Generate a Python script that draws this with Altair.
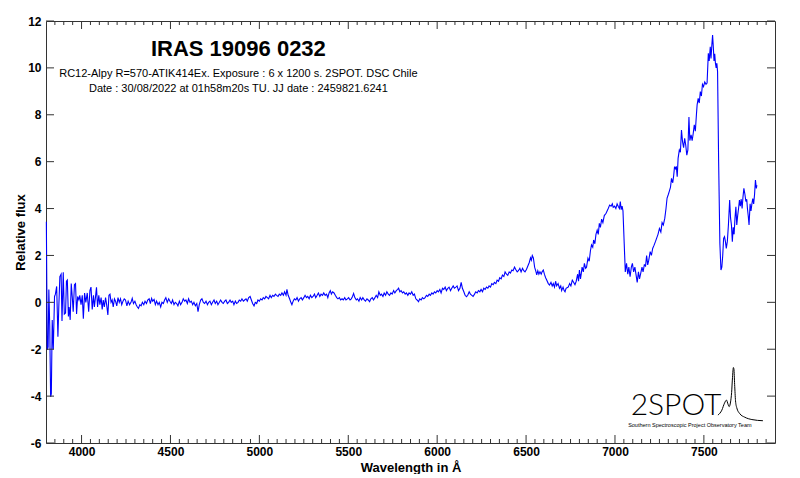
import altair as alt
import pandas as pd

# ---------------- data ----------------
WAVELENGTH = [
    3802, 3807, 3812, 3816, 3821, 3826, 3830, 3835, 3841, 3848, 3853, 3860, 3867, 3872, 3878, 3885,
    3890, 3897, 3903, 3910, 3915, 3920, 3926, 3930, 3936, 3942, 3948, 3953, 3960, 3966, 3972, 3978,
    3985, 3990, 3997, 4004, 4010, 4017, 4024, 4032, 4040, 4047, 4053, 4060, 4067, 4072, 4078, 4084,
    4090, 4097, 4103, 4110, 4116, 4122, 4128, 4135, 4141, 4148, 4154, 4160, 4166, 4172, 4178, 4185,
    4191, 4198, 4205, 4212, 4219, 4226, 4233, 4240, 4247, 4255, 4262, 4270, 4278, 4285, 4292, 4300,
    4307, 4314, 4320, 4328, 4335, 4342, 4350, 4357, 4365, 4372, 4380, 4387, 4394, 4400, 4408, 4415,
    4422, 4430, 4437, 4445, 4452, 4460, 4467, 4474, 4482, 4490, 4497, 4505, 4512, 4520, 4527, 4535,
    4542, 4550, 4557, 4565, 4572, 4580, 4587, 4595, 4602, 4610, 4617, 4625, 4632, 4640, 4648, 4655,
    4662, 4670, 4677, 4685, 4692, 4700, 4708, 4715, 4722, 4730, 4737, 4745, 4752, 4760, 4767, 4775,
    4782, 4790, 4797, 4805, 4812, 4820, 4827, 4835, 4842, 4850, 4857, 4865, 4872, 4880, 4887, 4895,
    4902, 4910, 4917, 4925, 4932, 4940, 4948, 4955, 4962, 4970, 4977, 4985, 4992, 5000, 5007, 5015,
    5022, 5030, 5037, 5045, 5052, 5060, 5067, 5075, 5082, 5090, 5097, 5105, 5112, 5120, 5127, 5135,
    5142, 5150, 5155, 5162, 5170, 5177, 5183, 5190, 5197, 5205, 5212, 5220, 5227, 5235, 5242, 5250,
    5257, 5265, 5272, 5280, 5287, 5295, 5302, 5310, 5317, 5325, 5332, 5340, 5347, 5355, 5362, 5370,
    5378, 5385, 5392, 5399, 5405, 5412, 5420, 5427, 5435, 5442, 5450, 5457, 5465, 5472, 5480, 5487,
    5495, 5502, 5510, 5517, 5524, 5530, 5537, 5545, 5552, 5560, 5567, 5575, 5582, 5590, 5597, 5605,
    5612, 5620, 5627, 5635, 5642, 5650, 5657, 5665, 5672, 5680, 5687, 5695, 5702, 5710, 5717, 5725,
    5732, 5740, 5747, 5755, 5762, 5770, 5778, 5783, 5790, 5797, 5805, 5812, 5820, 5827, 5835, 5842,
    5850, 5857, 5865, 5872, 5880, 5887, 5895, 5902, 5910, 5917, 5925, 5932, 5940, 5947, 5955, 5962,
    5970, 5977, 5985, 5992, 6000, 6007, 6015, 6022, 6030, 6037, 6045, 6052, 6060, 6067, 6075, 6082,
    6090, 6097, 6105, 6112, 6120, 6128, 6135, 6142, 6150, 6157, 6165, 6172, 6180, 6187, 6195, 6202,
    6210, 6217, 6225, 6232, 6240, 6247, 6255, 6262, 6270, 6277, 6285, 6292, 6300, 6307, 6315, 6322,
    6330, 6337, 6345, 6352, 6360, 6367, 6375, 6382, 6390, 6397, 6405, 6412, 6420, 6427, 6435, 6442,
    6450, 6457, 6465, 6472, 6480, 6487, 6494, 6502, 6510, 6518, 6525, 6530, 6535, 6541, 6548, 6556,
    6560, 6566, 6572, 6578, 6585, 6590, 6597, 6603, 6610, 6616, 6625, 6632, 6640, 6647, 6653, 6660,
    6666, 6672, 6680, 6688, 6695, 6700, 6708, 6714, 6719, 6725, 6737, 6745, 6752, 6760, 6768, 6775,
    6782, 6790, 6795, 6800, 6806, 6810, 6815, 6822, 6828, 6835, 6840, 6848, 6855, 6862, 6868, 6875,
    6880, 6887, 6893, 6900, 6906, 6912, 6918, 6925, 6932, 6940, 6950, 6962, 6970, 6978, 6985, 6990,
    6998, 7005, 7012, 7018, 7025, 7030, 7035, 7040, 7045, 7052, 7058, 7065, 7072, 7078, 7085, 7092,
    7098, 7105, 7112, 7118, 7125, 7132, 7138, 7145, 7152, 7158, 7165, 7172, 7178, 7184, 7190, 7198,
    7205, 7212, 7220, 7228, 7235, 7242, 7250, 7258, 7265, 7272, 7280, 7287, 7293, 7300, 7305, 7312,
    7318, 7325, 7330, 7335, 7340, 7345, 7350, 7355, 7362, 7368, 7374, 7380, 7386, 7392, 7398, 7404,
    7410, 7416, 7421, 7428, 7434, 7440, 7446, 7452, 7458, 7462, 7468, 7474, 7480, 7486, 7492, 7498,
    7505, 7512, 7518, 7525, 7530, 7536, 7540, 7545, 7549, 7553, 7557, 7561, 7565, 7569, 7573, 7577,
    7583, 7590, 7596, 7601, 7606, 7611, 7616, 7621, 7626, 7632, 7638, 7645, 7650, 7655, 7660, 7665,
    7670, 7675, 7680, 7685, 7690, 7695, 7700, 7705, 7710, 7715, 7720, 7725, 7731, 7736, 7741, 7745,
    7750, 7754, 7760, 7765, 7770, 7775, 7780, 7785, 7790, 7795, 7798,
]
FLUX = [
    3.44, -2.03, -1.9, 0.55, -1.0, -4.03, -3.9, -0.75, -2.0, 0.25, 0.35, 0.68, -1.47, -0.2, 1.1, 1.2,
    -0.8, 1.28, -0.5, -0.45, 0.9, 0.95, -0.6, -0.2, -0.75, 0.8, 0.2, -0.4, 0.75, 0.8, -0.5, 0.25,
    0.1, 0.3, -0.1, 0.3, -0.7, 0.4, 0.0, 0.4, -0.4, 0.5, 0.65, -0.3, 0.3, -0.2, 0.2, 0.64,
    -0.2, 0.3, -0.1, 0.2, -0.3, 0.1, -0.2, 0.2, -0.1, -0.54, 0.3, 0.35, 0.0, 0.1, -0.2, 0.15,
    0.05, -0.15, 0.2, 0.0, 0.15, -0.1, 0.05, 0.15, 0.1, -0.15, 0.05, -0.1, 0.0, 0.17, -0.05, 0.05,
    -0.1, -0.2, -0.26, -0.1, -0.15, 0.0, -0.1, 0.05, -0.05, 0.1, 0.15, -0.05, 0.17, 0.05, 0.12, -0.1,
    0.05, -0.1, 0.0, -0.2, 0.0, -0.05, 0.1, 0.2, 0.0, 0.15, 0.05, -0.05, 0.1, -0.1, 0.0, -0.05,
    -0.15, 0.05, -0.1, 0.0, 0.15, 0.05, 0.1, -0.05, 0.15, 0.0, 0.05, -0.1, 0.0, -0.15, -0.05, -0.4,
    -0.1, 0.1, 0.15, 0.0, -0.05, 0.05, -0.1, 0.0, 0.05, -0.1, 0.0, 0.1, -0.05, 0.05, -0.1, 0.0,
    0.1, 0.0, -0.05, 0.05, 0.1, -0.05, 0.0, 0.1, 0.0, 0.05, -0.1, 0.05, -0.05, 0.0, 0.1, 0.05,
    0.15, 0.05, 0.1, 0.15, 0.05, 0.2, 0.25, 0.1, -0.05, -0.15, 0.0, -0.05, 0.1, 0.05, 0.15, 0.1,
    0.2, 0.15, 0.25, 0.2, 0.15, 0.3, 0.2, 0.3, 0.25, 0.35, 0.3, 0.25, 0.35, 0.3, 0.4, 0.3,
    0.45, 0.3, 0.55, 0.3, 0.15, 0.0, -0.1, 0.05, 0.15, 0.1, 0.2, 0.05, 0.15, 0.2, 0.1, 0.2,
    0.3, 0.2, 0.25, 0.15, 0.3, 0.2, 0.25, 0.35, 0.2, 0.3, 0.4, 0.25, 0.35, 0.3, 0.4, 0.3,
    0.35, 0.2, 0.4, 0.5, 0.35, 0.45, 0.4, 0.3, 0.2, 0.15, 0.2, 0.1, 0.15, 0.1, 0.2, 0.1,
    0.15, 0.2, 0.1, 0.15, 0.25, 0.38, 0.2, 0.1, 0.15, 0.05, 0.2, 0.1, 0.2, 0.1, 0.05, 0.15,
    0.1, 0.03, 0.15, 0.2, 0.1, 0.2, 0.3, 0.2, 0.45, 0.3, 0.35, 0.25, 0.4, 0.3, 0.45, 0.35,
    0.3, 0.4, 0.35, 0.5, 0.4, 0.5, 0.55, 0.6, 0.45, 0.5, 0.4, 0.45, 0.35, 0.4, 0.3, 0.4,
    0.35, 0.45, 0.3, 0.35, 0.15, 0.1, 0.03, 0.15, 0.1, 0.2, 0.15, 0.2, 0.3, 0.25, 0.35, 0.3,
    0.4, 0.35, 0.45, 0.4, 0.5, 0.45, 0.55, 0.4, 0.6, 0.55, 0.65, 0.5, 0.6, 0.65, 0.5, 0.6,
    0.7, 0.6, 0.65, 0.7, 0.5, 0.6, 0.85, 0.6, 0.45, 0.3, 0.24, 0.3, 0.45, 0.35, 0.3, 0.25,
    0.35, 0.45, 0.4, 0.5, 0.45, 0.55, 0.45, 0.6, 0.55, 0.65, 0.6, 0.7, 0.65, 0.8, 0.75, 0.85,
    0.8, 0.95, 0.9, 1.05, 1.0, 1.16, 1.1, 1.3, 1.2, 1.15, 1.3, 1.25, 1.38, 1.35, 1.5, 1.4,
    1.3, 1.35, 1.45, 1.3, 1.45, 1.35, 1.3, 1.4, 1.55, 1.7, 1.9, 1.8, 2.0, 1.9, 1.5, 1.3,
    1.17, 1.35, 1.2, 1.3, 1.2, 1.3, 1.38, 1.2, 1.05, 0.95, 0.8, 0.74, 0.85, 0.7, 0.8, 0.65,
    0.9, 0.7, 0.8, 0.6, 0.7, 0.5, 0.65, 0.5, 0.45, 0.6, 0.65, 0.8, 0.7, 0.95, 0.85, 0.75,
    0.9, 1.2, 0.9, 1.38, 1.0, 1.2, 1.5, 1.3, 1.66, 1.45, 1.5, 1.88, 1.75, 2.2, 2.45, 2.35,
    2.66, 2.5, 2.9, 3.08, 2.9, 3.37, 3.2, 3.55, 3.4, 3.7, 3.8, 4.0, 4.15, 4.1, 4.2, 4.05,
    4.1, 4.0, 4.2, 4.1, 4.0, 4.3, 3.95, 4.1, 3.9, 2.5, 1.3, 1.66, 1.2, 1.5, 1.09, 1.5,
    1.66, 1.3, 1.5, 1.2, 0.85, 1.3, 1.0, 1.25, 1.5, 1.3, 1.6, 1.55, 2.0, 1.6, 1.8, 2.16,
    2.0, 2.3, 2.44, 2.6, 2.75, 2.9, 3.15, 3.0, 3.4, 3.3, 3.58, 4.0, 4.45, 4.6, 4.72, 4.9,
    5.29, 5.1, 5.4, 5.79, 5.7, 5.8, 5.36, 6.14, 6.5, 6.4, 7.35, 6.85, 6.6, 7.0, 6.7, 6.28,
    6.5, 7.9, 6.9, 7.14, 6.9, 7.2, 7.57, 7.3, 8.0, 8.42, 8.7, 8.5, 8.99, 8.8, 9.3, 9.2,
    9.4, 9.3, 9.35, 10.62, 10.3, 10.9, 10.4, 11.0, 11.4, 10.9, 10.3, 10.6, 10.2, 10.0, 10.2, 9.84,
    6.0, 2.5, 1.38, 1.5, 2.0, 2.73, 2.8, 2.6, 2.3, 2.6, 3.3, 4.36, 3.6, 3.3, 2.59, 3.2,
    2.9, 3.6, 4.08, 3.3, 3.7, 4.0, 4.36, 4.1, 4.4, 4.0, 4.5, 4.86, 4.6, 4.3, 4.4, 4.0,
    3.65, 3.3, 4.2, 3.9, 4.2, 4.43, 4.2, 4.6, 5.22, 4.86, 5.0,
]

X_MAJOR = [4000, 4500, 5000, 5500, 6000, 6500, 7000, 7500]
X_MINOR = [w for w in range(3850, 7900, 50) if w not in X_MAJOR]
Y_TICKS = [-6, -4, -2, 0, 2, 4, 6, 8, 10, 12]

TITLE = "IRAS 19096 0232"
INFO_1 = "RC12-Alpy R=570-ATIK414Ex. Exposure : 6 x 1200 s. 2SPOT. DSC Chile"
INFO_2 = "Date : 30/08/2022 at 01h58m20s TU. JJ date : 2459821.6241"
LOGO = "2SPOT"
LOGO_TAG = "Southern Spectroscopic Project Observatory Team"

# little emission-line drawing of the logo (in data units)
LOGO_CURVE_WL = [7579, 7601, 7616, 7627, 7636, 7642, 7650, 7656, 7661, 7666, 7669, 7673, 7678, 7685, 7702, 7730, 7770, 7832]
LOGO_CURVE_FLUX = [-4.81, -4.6, -4.3, -4.17, -4.35, -4.45, -4.25, -3.85, -3.2, -2.78, -2.85, -3.5, -4.2, -4.5, -4.75, -4.9, -5.0, -5.05]

# ---------------- chart ----------------
W, H = 729, 422
FONT = "Liberation Sans"
AX = "#333333"

xs = alt.Scale(domain=[3800, 7900], nice=False, zero=False)
ys = alt.Scale(domain=[-6, 12], nice=False, zero=False)

X_AXIS = alt.Axis(
    values=X_MAJOR, format="d", title="Wavelength in Å", grid=False, domain=False,
    ticks=False, tickSize=0, labelFont=FONT, labelFontSize=12, labelFontWeight="bold",
    labelColor="black", labelPadding=3, labelFlush=False, labelOverlap=False,
    titleFont=FONT, titleFontSize=13, titleFontWeight="bold", titleColor="black",
    titleY=24, titleBaseline="middle")
Y_AXIS = alt.Axis(
    values=Y_TICKS, labelExpr="'' + datum.value", title="Relative flux", grid=False,
    domain=False, ticks=False, tickSize=0, labelFont=FONT, labelFontSize=12,
    labelFontWeight="bold", labelColor="black", labelPadding=5, labelFlush=False,
    labelOverlap=False, labelBaseline="middle",
    titleFont=FONT, titleFontSize=13, titleFontWeight="bold", titleColor="black",
    titleAngle=270, titleX=-26, titleY=211, titleAlign="center", titleBaseline="middle")


def X(field):
    return alt.X(field, scale=xs, axis=X_AXIS)


def Y(field):
    return alt.Y(field, scale=ys, axis=Y_AXIS)


spec_df = pd.DataFrame({"wl": WAVELENGTH, "flux": FLUX})

spectrum = alt.Chart(spec_df).mark_line(color="#0000ff", strokeWidth=1.1).encode(
    x=X("wl:Q"), y=Y("flux:Q"))


def xticks(vals, y0, y1):
    return alt.Chart(pd.DataFrame({"wl": vals})).mark_rule(color=AX, strokeWidth=1).encode(
        x=X("wl:Q"), y=alt.value(y0), y2=alt.value(y1))


def yticks(vals, x0, x1):
    return alt.Chart(pd.DataFrame({"flux": vals})).mark_rule(color=AX, strokeWidth=1).encode(
        y=Y("flux:Q"), x=alt.value(x0), x2=alt.value(x1))


tick_layers = [
    xticks(X_MAJOR, H, H - 8), xticks(X_MINOR, H, H - 4),
    xticks(X_MAJOR, 0, 8), xticks(X_MINOR, 0, 4),
    yticks(Y_TICKS, 0, 8), yticks(Y_TICKS, W, W - 8),
]

ann_df = pd.DataFrame({
    "label": [TITLE, INFO_1, INFO_2],
    "wl": [4882, 4882, 4882],
    "flux": [10.8, 9.74, 9.1],
    "size": [22, 11, 11],
    "weight": ["bold", "normal", "normal"],
})


def text_layer(row):
    return alt.Chart(pd.DataFrame([row])).mark_text(
        font=FONT, fontSize=row["size"], fontWeight=row["weight"], color="black",
        align="center", baseline="middle").encode(
        x=X("wl:Q"), y=Y("flux:Q"), text="label:N")


ann_layers = [text_layer(r) for r in ann_df.to_dict("records")]

logo_text = alt.Chart(pd.DataFrame({"label": [LOGO], "wl": [7343], "flux": [-4.42]})).mark_text(
    font="Lato", fontSize=30, fontWeight=300, color="black", align="center", baseline="middle"
).encode(x=X("wl:Q"), y=Y("flux:Q"), text="label:N")

logo_tag = alt.Chart(pd.DataFrame({"label": [LOGO_TAG], "wl": [7421], "flux": [-5.23]})).mark_text(
    font=FONT, fontSize=5.5, color="black", align="center", baseline="middle"
).encode(x=X("wl:Q"), y=Y("flux:Q"), text="label:N")

logo_curve = alt.Chart(pd.DataFrame({"wl": LOGO_CURVE_WL, "flux": LOGO_CURVE_FLUX})).mark_line(
    color="black", strokeWidth=1, interpolate="monotone"
).encode(x=X("wl:Q"), y=Y("flux:Q"))

chart = alt.layer(
    spectrum, *tick_layers, *ann_layers, logo_text, logo_tag, logo_curve
).properties(
    width=W, height=H, autosize="none",
    padding={"left": 38, "top": 13, "right": 17, "bottom": 31},
    background="white",
).configure_view(stroke=AX, strokeWidth=1)

chart.save("out.html", embed_options={"renderer": "svg", "actions": False})
